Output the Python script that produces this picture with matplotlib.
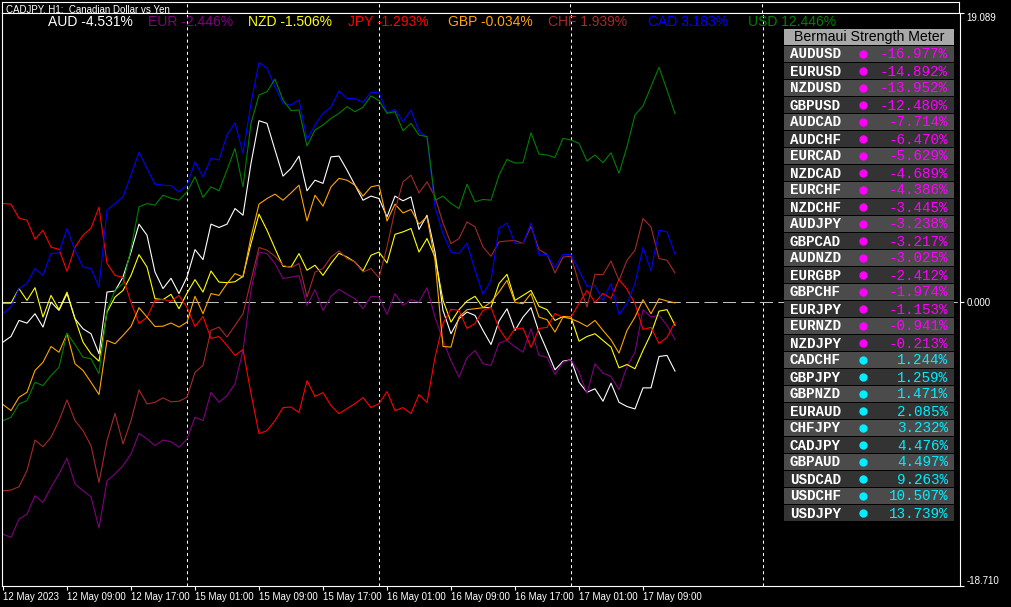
import matplotlib
matplotlib.use("Agg")
import matplotlib.pyplot as plt
from matplotlib.patches import Rectangle
import numpy as np

plt.rcParams["lines.scale_dashes"] = False
plt.rcParams["font.family"] = ["Liberation Sans", "DejaVu Sans"]

# ---------------- data ----------------
currencies = ["AUD", "EUR", "NZD", "JPY", "GBP", "CHF", "CAD", "USD"]
final_pct = [-4.531, -2.446, -1.506, -1.293, -0.034, 1.939, 3.183, 12.446]
line_colors = ["#FFFFFF", "#800080", "#FFFF00", "#FF0000", "#FFA500", "#A52A2A", "#0000FF", "#008000"]

aud = [-2.62, -2.25, -1.19, -1.37, -0.75, -1.63, 0.02, -0.53, 0.58, -1.08,
       -1.74, -2.07, -3.39, 0.68, 0.75, 1.67, 3.32, 5.16, 4.43, 2.00,
       0.91, 1.59, 0.58, 1.67, 3.48, 2.82, 5.16, 4.94, 5.16, 6.19,
       5.75, 9.17, 11.98, 11.81, 10.05, 8.33, 8.84, 9.65, 7.36, 8.06,
       7.85, 9.60, 9.65, 8.73, 7.73, 6.74, 7.01, 6.85, 5.64, 7.01,
       6.70, 6.96, 4.81, 5.75, 3.32, -0.53, -2.07, -1.08, -0.64, -0.86,
       -1.85, -2.78, -1.24, -0.42, -1.85, -0.97, -0.35, -1.96, -3.17, -4.45,
       -3.88, -3.79, -5.27, -5.93, -5.70, -6.52, -5.33, -6.59, -6.87, -7.03,
       -5.64, -5.64, -3.57, -3.50, -4.531]
eur = [-15.29, -15.51, -14.30, -13.97, -12.76, -13.20, -12.21, -11.32, -10.27, -11.98,
       -12.43, -12.82, -14.89, -11.77, -11.32, -10.77, -10.00, -8.64, -9.01, -9.45,
       -9.08, -9.19, -9.56, -9.01, -7.58, -7.80, -5.93, -6.59, -6.15, -5.37,
       -3.17, 0.79, 3.32, 3.22, 2.56, 1.57, 1.67, 1.76, -0.20, 0.84,
       -0.53, 0.40, 0.86, 0.53, 0.24, -0.42, 0.40, 0.35, -0.79, 0.58,
       -0.20, 0.18, 0.02, 0.97, -0.97, -2.51, -3.83, -4.94, -3.66, -3.17,
       -4.05, -4.16, -2.69, -2.51, -2.94, -3.29, -1.74, -3.50, -3.62, -4.76,
       -3.95, -3.79, -4.61, -6.00, -4.05, -4.67, -4.89, -5.77, -4.23, -3.29,
       -0.48, -0.97, -0.86, -1.52, -2.446]
nzd = [-0.05, -0.05, 0.91, 0.13, 0.97, -0.97, 0.46, -0.48, 0.68, -1.08,
       -2.62, -3.39, -3.88, -0.64, 0.35, 0.79, 1.78, 3.15, 2.33, 0.24,
       0.18, 0.53, -0.42, 0.61, 1.50, 0.68, 2.07, 1.34, 1.30, 1.36,
       1.72, 3.88, 5.82, 4.76, 3.55, 2.38, 2.33, 3.22, 2.12, 2.45,
       1.78, 2.56, 3.24, 2.99, 2.66, 2.07, 3.11, 3.32, 2.60, 4.49,
       4.65, 4.87, 3.32, 4.21, 2.99, 0.13, -1.30, -0.48, 0.09, 0.40,
       -0.35, -0.33, 1.24, 1.85, 0.13, 0.46, 0.79, -0.26, -0.48, -1.19,
       -0.93, -0.97, -2.56, -2.25, -2.07, -2.51, -2.95, -4.32, -4.10, -4.38,
       -3.17, -2.07, -0.58, -0.48, -1.506]
jpy = [6.52, 6.48, 5.55, 5.42, 4.16, 4.76, 3.64, 3.50, 2.05, 3.64,
       4.43, 4.89, 6.28, 2.58, 1.78, 1.65, 0.00, -1.39, -0.99, 0.13,
       0.20, 0.07, 0.46, -0.33, -1.59, -0.93, -2.38, -2.25, -2.84, -3.50,
       -3.11, -6.02, -8.66, -8.46, -7.80, -6.94, -6.90, -7.27, -5.16, -6.21,
       -5.95, -6.81, -7.34, -7.01, -6.68, -6.28, -6.94, -6.68, -5.88, -7.14,
       -6.94, -7.34, -6.08, -6.61, -3.64, -1.39, -0.46, -0.53, -1.72, -1.39,
       -0.53, -0.33, -1.72, -2.51, -1.72, -1.70, -2.97, -1.72, -1.65, -0.73,
       -0.99, -0.97, -0.07, 0.79, 0.00, 0.59, 0.26, 1.52, 0.86, -0.07,
       -1.78, -1.65, -2.71, -2.31, -1.293]
gbp = [-6.74, -7.14, -6.26, -5.93, -4.49, -3.95, -2.91, -3.29, -2.07, -4.05,
       -4.49, -5.27, -6.08, -2.51, -2.73, -2.18, -1.59, -0.35, -0.97, -1.59,
       -1.57, -1.36, -1.63, -1.30, 0.40, -0.75, 0.58, 0.46, 1.24, 1.90,
       1.67, 4.32, 6.48, 6.85, 7.14, 6.74, 7.22, 7.73, 5.37, 7.07,
       6.35, 7.62, 8.18, 8.06, 7.73, 7.01, 7.62, 7.73, 5.37, 6.48,
       5.90, 6.13, 5.16, 5.64, 2.78, -2.91, -2.95, -0.97, -0.48, -0.42,
       -0.35, 0.02, 0.68, 1.45, 0.00, -0.09, 0.58, -0.97, -1.14, -1.96,
       -0.97, -1.08, -1.30, -1.59, -1.19, -1.85, -2.47, -3.35, -1.85, -0.97,
       0.18, -0.75, 0.24, 0.09, -0.034]
chf = [-12.43, -12.38, -12.16, -11.10, -9.08, -9.52, -8.90, -7.80, -6.43, -7.80,
       -8.46, -9.45, -11.88, -9.12, -7.32, -9.34, -7.80, -5.77, -6.70, -6.59,
       -6.30, -6.56, -6.52, -6.26, -4.61, -4.16, -1.85, -1.63, -2.29, -1.52,
       -0.75, 1.45, 3.62, 3.44, 3.04, 2.45, 2.29, 2.56, 0.35, 2.00,
       2.23, 2.99, 3.40, 2.89, 2.66, 2.00, 2.23, 1.63, 3.66, 6.08,
       7.95, 8.39, 7.22, 7.95, 6.96, 5.24, 3.88, 4.21, 5.31, 4.98,
       3.66, 3.04, 3.99, 4.05, 4.08, 3.88, 5.02, 3.48, 3.17, 1.94,
       2.99, 3.04, 1.24, -0.31, 1.85, 1.83, 2.73, 1.45, 2.78, 3.44,
       5.53, 4.98, 2.89, 2.78, 1.939]
cad = [-0.71, -0.31, 0.91, 1.24, 2.23, 1.78, 3.22, 3.26, 4.87, 3.44,
       2.33, 2.23, 1.01, 6.08, 6.52, 6.96, 8.39, 9.90, 8.84, 7.80,
       7.73, 7.70, 7.29, 7.73, 9.27, 8.28, 9.50, 9.39, 11.04, 11.85,
       9.83, 13.13, 15.82, 15.45, 14.23, 13.13, 13.02, 13.35, 10.75, 11.70,
       12.47, 12.87, 13.95, 13.46, 13.44, 13.20, 13.86, 13.83, 12.51, 12.74,
       11.92, 12.69, 11.26, 10.93, 6.30, 4.54, 3.32, 3.22, 3.92, 2.12,
       0.53, 1.45, 4.87, 5.24, 3.90, 3.88, 5.24, 3.11, 3.17, 2.29,
       3.17, 3.15, 2.12, 1.06, 1.12, 0.13, 1.24, -0.79, -0.09, 1.24,
       3.62, 2.07, 4.76, 4.65, 3.183]
usd = [-7.80, -7.58, -6.70, -6.48, -5.27, -5.49, -4.83, -4.28, -2.03, -2.78,
       -3.62, -3.72, -4.71, -0.53, 0.79, 1.24, 3.55, 6.30, 6.52, 6.41,
       7.07, 6.87, 6.74, 7.29, 8.28, 6.92, 7.62, 7.36, 8.73, 10.16,
       7.62, 11.81, 13.68, 13.90, 14.72, 13.35, 12.65, 12.69, 10.31, 11.37,
       11.70, 12.14, 12.47, 12.91, 12.58, 12.87, 13.62, 13.31, 12.47, 12.58,
       11.32, 11.81, 11.04, 10.93, 6.74, 7.01, 6.52, 6.19, 7.80, 6.63,
       6.79, 6.74, 8.39, 9.43, 9.19, 9.21, 11.19, 9.78, 9.72, 9.56,
       10.82, 10.71, 10.49, 9.32, 9.72, 9.21, 9.87, 8.51, 10.27, 12.36,
       12.96, 14.23, 15.51, 14.01, 12.446]
series = [aud, eur, nzd, jpy, gbp, chf, cad, usd]

time_labels = ["12 May 2023", "12 May 09:00", "12 May 17:00", "15 May 01:00",
               "15 May 09:00", "15 May 17:00", "16 May 01:00", "16 May 09:00",
               "16 May 17:00", "17 May 01:00", "17 May 09:00"]
label_bars = [0, 8, 16, 24, 32, 40, 48, 56, 64, 72, 80]
day_break_bars = [23, 47, 71, 95]
y_min, y_max = -18.710, 19.089
y_tick_labels = ["-18.710", "0.000", "19.089"]

pairs = ["AUDUSD", "EURUSD", "NZDUSD", "GBPUSD", "AUDCAD", "AUDCHF", "EURCAD",
         "NZDCAD", "EURCHF", "NZDCHF", "AUDJPY", "GBPCAD", "AUDNZD", "EURGBP",
         "GBPCHF", "EURJPY", "EURNZD", "NZDJPY", "CADCHF", "GBPJPY", "GBPNZD",
         "EURAUD", "CHFJPY", "CADJPY", "GBPAUD", "USDCAD", "USDCHF", "USDJPY"]
pair_pct = [-16.977, -14.892, -13.952, -12.480, -7.714, -6.470, -5.629,
            -4.689, -4.386, -3.445, -3.238, -3.217, -3.025, -2.412,
            -1.974, -1.153, -0.941, -0.213, 1.244, 1.259, 1.471,
            2.085, 3.232, 4.476, 4.497, 9.263, 10.507, 13.739]

chart_title = "CADJPY, H1:  Canadian Dollar vs Yen"
table_title = "Bermaui Strength Meter"

# ---------------- layout ----------------
W, H = 1012, 607
fig = plt.figure(figsize=(W / 100, H / 100), dpi=100, facecolor="black")


def frame(x0, y0, x1, y1):
    return [x0 / W, 1 - y1 / H, (x1 - x0) / W, (y1 - y0) / H]


XL = (-0.125, 119.625)
vdash = (0, (2.2, 2.2))

# tiny main-price window at top
axt = fig.add_axes(frame(2, 2, 959, 13))
axt.set_facecolor("black")
axt.set_xlim(*XL)
axt.set_ylim(0, 1)
axt.set_xticks([])
axt.set_yticks([])
for s in axt.spines.values():
    s.set_color("white")
    s.set_linewidth(0.8)
for b in day_break_bars:
    axt.axvline(b, color="white", lw=0.75, ls=vdash)
axt.text(0.004, 0.0, chart_title, transform=axt.transAxes, color="white",
         fontsize=7, ha="left", va="baseline", clip_on=True)

# indicator window
ax = fig.add_axes(frame(2, 13, 960, 586))
ax.set_facecolor("black")
ax.set_xlim(*XL)
ax.set_ylim(y_min, y_max)
for s in ax.spines.values():
    s.set_color("white")
    s.set_linewidth(0.8)

for b in day_break_bars:
    ax.axvline(b, color="white", lw=0.75, ls=vdash, zorder=1)
ax.axhline(0, color="#C0C0C0", lw=0.75, ls=(0, (9.5, 3.8)), zorder=1)

for vals, col in zip(series, line_colors):
    x = np.arange(len(vals))
    ax.plot(x, vals, color=col, lw=0.8, zorder=2)

ax.set_xticks(label_bars)
ax.set_xticklabels(time_labels)
for lbl in ax.get_xticklabels():
    lbl.set_ha("left")
ax.tick_params(axis="x", colors="white", direction="out", length=3, width=0.8,
               labelsize=7, pad=1.5)

ax.yaxis.tick_right()
ax.set_yticks([y_min, 0, y_max])
ax.set_yticklabels(y_tick_labels)
ax.tick_params(axis="y", colors="white", direction="out", length=3, width=0.8,
               labelsize=7, pad=1.5)
ylbls = ax.get_yticklabels()
ylbls[0].set_va("bottom")
ylbls[2].set_va("top")

# overlay in pixel coordinates for legend text and table
ov = fig.add_axes([0, 0, 1, 1], zorder=10)
ov.set_xlim(0, W)
ov.set_ylim(H, 0)
ov.axis("off")
ov.patch.set_alpha(0)

for i, (cur, pct, col) in enumerate(zip(currencies, final_pct, line_colors)):
    ov.text(48 + 100 * i, 22, f"{cur} {pct:.3f}%", color=col, fontsize=10,
            ha="left", va="center")

tx0, tw = 784, 170
ov.add_patch(Rectangle((tx0, 29), tw, 16, facecolor="#A9A9A9", edgecolor="none"))
ov.text(tx0 + tw / 2, 37.5, table_title, color="black", fontsize=10.2,
        ha="center", va="center")
for i, (p, v) in enumerate(zip(pairs, pair_pct)):
    y0 = 46 + 17 * i
    bg = "#4B4B4B" if i % 2 == 0 else "#333333"
    ov.add_patch(Rectangle((tx0, y0), tw, 16, facecolor=bg, edgecolor="none"))
    col = "#FF00FF" if v < 0 else "#00EEFF"
    ov.text(790, y0 + 8.5, p, color="white", fontsize=10.3, family="Liberation Mono",
            weight="bold", ha="left", va="center")
    ov.plot([863], [y0 + 8], "o", ms=6, color=col, mec="none")
    ov.text(948, y0 + 8.5, f"{v:.3f}%", color=col, fontsize=10.3,
            family="Liberation Mono", ha="right", va="center")

fig.savefig("out.png", dpi=100, facecolor="black")
